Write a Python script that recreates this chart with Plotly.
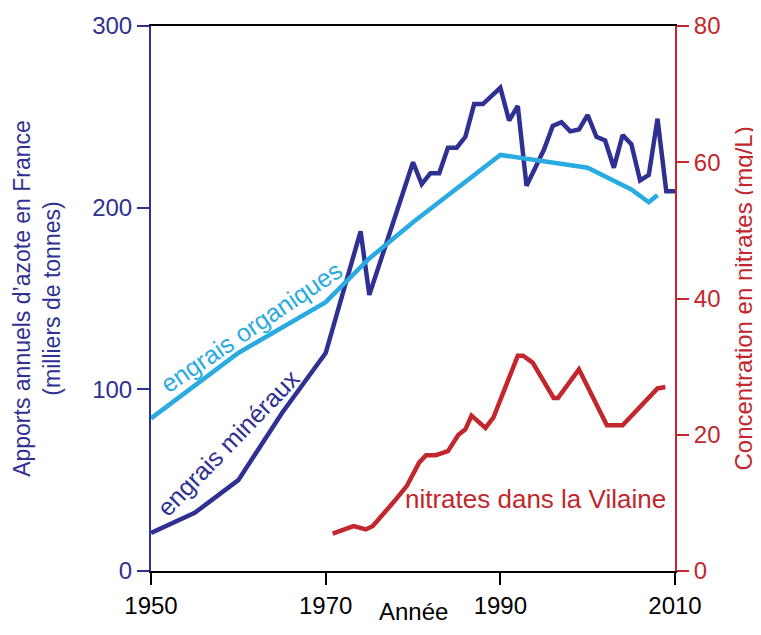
import plotly.graph_objects as go

# ---- data ----
mineral_years = [1950, 1955, 1960, 1965, 1970, 1974, 1975, 1980, 1981, 1982, 1983, 1984, 1985,
                 1986, 1987, 1988, 1990, 1991, 1992, 1993, 1994, 1995, 1996, 1997, 1998, 1999,
                 2000, 2001, 2002, 2003, 2004, 2005, 2006, 2007, 2008, 2009, 2010]
mineral_values = [21, 32, 50, 87, 120, 187, 152, 225, 213, 219, 219, 233, 233,
                  239, 257, 257, 266, 248, 256, 212, 222, 232, 245, 247, 242, 243,
                  251, 239, 237, 222, 240, 235, 215, 218, 249, 209, 209]

organic_years = [1950, 1955, 1960, 1970, 1975, 1980, 1990, 2000, 2005, 2007, 2008]
organic_values = [84, 102, 120, 148, 172, 192, 229, 222, 210, 203, 207]

nitrate_years = [1970.8, 1973.2, 1974.6, 1975.4, 1977.9, 1979.3, 1980.7, 1981.5, 1982.6,
                 1984.0, 1985.2, 1986.0, 1986.7, 1988.3, 1989.2, 1992.0, 1992.6, 1993.7,
                 1996.1, 1996.6, 1999.0, 2002.2, 2004.0, 2006.9, 2008.0, 2008.9]
nitrate_values = [5.5, 6.6, 6.1, 6.6, 10.3, 12.5, 15.9, 17.0, 17.0,
                  17.6, 20.0, 20.8, 22.8, 21.0, 22.5, 31.6, 31.6, 30.6,
                  25.4, 25.4, 29.6, 21.4, 21.4, 25.4, 26.8, 27.0]

x_ticks = [1950, 1970, 1990, 2010]
y_ticks = [0, 100, 200, 300]
y2_ticks = [0, 20, 40, 60, 80]

DARK = "#2E3192"
LIGHT = "#29ABE2"
RED = "#C1272D"
FONT = "Liberation Sans, Arial, sans-serif"

fig = go.Figure()
fig.add_trace(go.Scatter(x=mineral_years, y=mineral_values, mode="lines",
                         line=dict(color=DARK, width=4.5), showlegend=False))
fig.add_trace(go.Scatter(x=organic_years, y=organic_values, mode="lines",
                         line=dict(color=LIGHT, width=4.5), showlegend=False))
fig.add_trace(go.Scatter(x=nitrate_years, y=nitrate_values, mode="lines", yaxis="y2",
                         line=dict(color=RED, width=4.5), showlegend=False))

fig.add_annotation(x=1961.45, y=134.3, xref="x", yref="y", text="engrais organiques",
                   textangle=-34, showarrow=False, font=dict(color=LIGHT, size=25, family=FONT))
fig.add_annotation(x=1958.8, y=70.6, xref="x", yref="y", text="engrais minéraux",
                   textangle=-46, showarrow=False, font=dict(color=DARK, size=25, family=FONT))
fig.add_annotation(x=1994.0, y=10.6, xref="x", yref="y2", text="nitrates dans la Vilaine",
                   showarrow=False, font=dict(color=RED, size=26, family=FONT))

# axis titles placed as annotations for exact positioning
fig.add_annotation(x=1, y=0.5, xref="paper", yref="paper", xanchor="center", yanchor="middle",
                   xshift=68, text="Concentration en nitrates (mg/L)", textangle=-90,
                   showarrow=False, font=dict(color=RED, size=24, family=FONT))
fig.add_annotation(x=0.5, y=0, xref="paper", yref="paper", xanchor="center", yanchor="bottom",
                   yshift=-56, text="Année",
                   showarrow=False, font=dict(color="black", size=24, family=FONT))

fig.update_layout(
    width=753, height=619,
    margin=dict(l=143, r=86, t=18, b=56),
    plot_bgcolor="white", paper_bgcolor="white",
    font=dict(family=FONT, size=24, color="black"),
    xaxis=dict(range=[1950, 2010], tickvals=x_ticks, showgrid=False, zeroline=False,
               showline=True, linecolor="black", linewidth=2, mirror=True,
               ticks="outside", ticklen=12, tickwidth=2, tickcolor="black",
               tickfont=dict(size=24, color="black"), automargin=False),
    yaxis=dict(range=[0, 300], tickvals=y_ticks, showgrid=False, zeroline=False,
               showline=True, linecolor=DARK, linewidth=2,
               ticks="outside", ticklen=12, tickwidth=2, tickcolor=DARK,
               tickfont=dict(size=24, color=DARK), automargin=False,
               title=dict(text="Apports annuels d’azote en France<br>(milliers de tonnes)",
                          font=dict(size=23, color=DARK), standoff=25)),
    yaxis2=dict(range=[0, 80], tickvals=y2_ticks, overlaying="y", side="right",
                showgrid=False, zeroline=False,
                showline=True, linecolor=RED, linewidth=2,
                ticks="outside", ticklen=12, tickwidth=2, tickcolor=RED,
                tickfont=dict(size=24, color=RED), automargin=False),
)

fig.write_html("out.html")
